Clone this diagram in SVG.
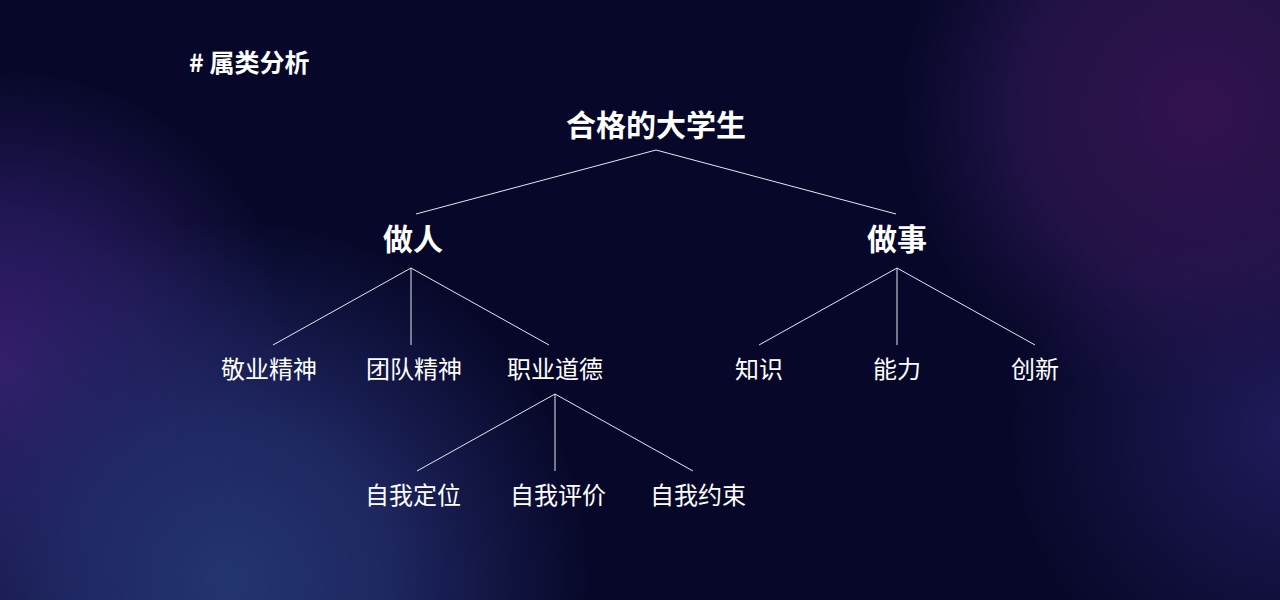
<svg xmlns="http://www.w3.org/2000/svg" width="1280" height="600" viewBox="0 0 1280 600">
<defs>
<radialGradient id="gBlue" cx="230" cy="580" r="360" gradientUnits="userSpaceOnUse">
<stop offset="0" stop-color="#23356f" stop-opacity="1"/>
<stop offset="0.45" stop-color="#212a66" stop-opacity="0.9"/>
<stop offset="1" stop-color="#1f2562" stop-opacity="0"/>
</radialGradient>
<radialGradient id="gPurpleL" cx="0" cy="370" r="300" gradientUnits="userSpaceOnUse">
<stop offset="0" stop-color="#3a1c70" stop-opacity="1"/>
<stop offset="0.5" stop-color="#2e1e68" stop-opacity="0.7"/>
<stop offset="1" stop-color="#2a1d65" stop-opacity="0"/>
</radialGradient>
<radialGradient id="gPurpleR" cx="1200" cy="110" r="300" gradientUnits="userSpaceOnUse">
<stop offset="0" stop-color="#33124f" stop-opacity="1"/>
<stop offset="0.6" stop-color="#2a1550" stop-opacity="0.75"/>
<stop offset="1" stop-color="#22144d" stop-opacity="0"/>
</radialGradient>
<radialGradient id="gBlueR" cx="1290" cy="430" r="280" gradientUnits="userSpaceOnUse">
<stop offset="0" stop-color="#1f1b5a" stop-opacity="1"/>
<stop offset="1" stop-color="#1f1b5a" stop-opacity="0"/>
</radialGradient>
</defs>
<style>
text{fill:#ffffff;font-family:"Noto Sans CJK SC","Noto Sans",sans-serif;text-anchor:middle}
.title{font-size:30px;font-weight:700}
.mid{font-size:30px;font-weight:700}
.leaf{font-size:24px;font-weight:400}
.head{font-size:25px;font-weight:700;text-anchor:start}
.conn line{stroke:#e6e6ee;stroke-width:1}
</style>
<rect width="1280" height="600" fill="#070829"/>
<rect width="1280" height="600" fill="url(#gBlueR)"/>
<rect width="1280" height="600" fill="url(#gPurpleR)"/>
<rect width="1280" height="600" fill="url(#gPurpleL)"/>
<rect width="1280" height="600" fill="url(#gBlue)"/>
<text class="head" x="189" y="72"># 属类分析</text>
<g class="conn" id="connectors">
<line x1="656" y1="150" x2="416" y2="214"/>
<line x1="656" y1="150" x2="896" y2="214"/>
<line x1="411" y1="268" x2="273" y2="345"/>
<line x1="411" y1="268" x2="411" y2="345"/>
<line x1="411" y1="268" x2="549" y2="345"/>
<line x1="897" y1="268" x2="759" y2="345"/>
<line x1="897" y1="268" x2="897" y2="345"/>
<line x1="897" y1="268" x2="1035" y2="345"/>
<line x1="555" y1="394" x2="417" y2="471"/>
<line x1="555" y1="394" x2="555" y2="471"/>
<line x1="555" y1="394" x2="693" y2="471"/>
</g>
<g id="root"><text class="title" x="656" y="136">合格的大学生</text></g>
<g id="zuoren"><text class="mid" x="413" y="250">做人</text></g>
<g id="zuoshi"><text class="mid" x="897" y="250">做事</text></g>
<g id="jingye"><text class="leaf" x="269" y="378">敬业精神</text></g>
<g id="tuandui"><text class="leaf" x="414" y="378">团队精神</text></g>
<g id="zhiye"><text class="leaf" x="555" y="378">职业道德</text></g>
<g id="zhishi"><text class="leaf" x="759" y="378">知识</text></g>
<g id="nengli"><text class="leaf" x="897" y="378">能力</text></g>
<g id="chuangxin"><text class="leaf" x="1035" y="378">创新</text></g>
<g id="dingwei"><text class="leaf" x="413" y="504">自我定位</text></g>
<g id="pingjia"><text class="leaf" x="558" y="504">自我评价</text></g>
<g id="yueshu"><text class="leaf" x="698" y="504">自我约束</text></g>
</svg>
